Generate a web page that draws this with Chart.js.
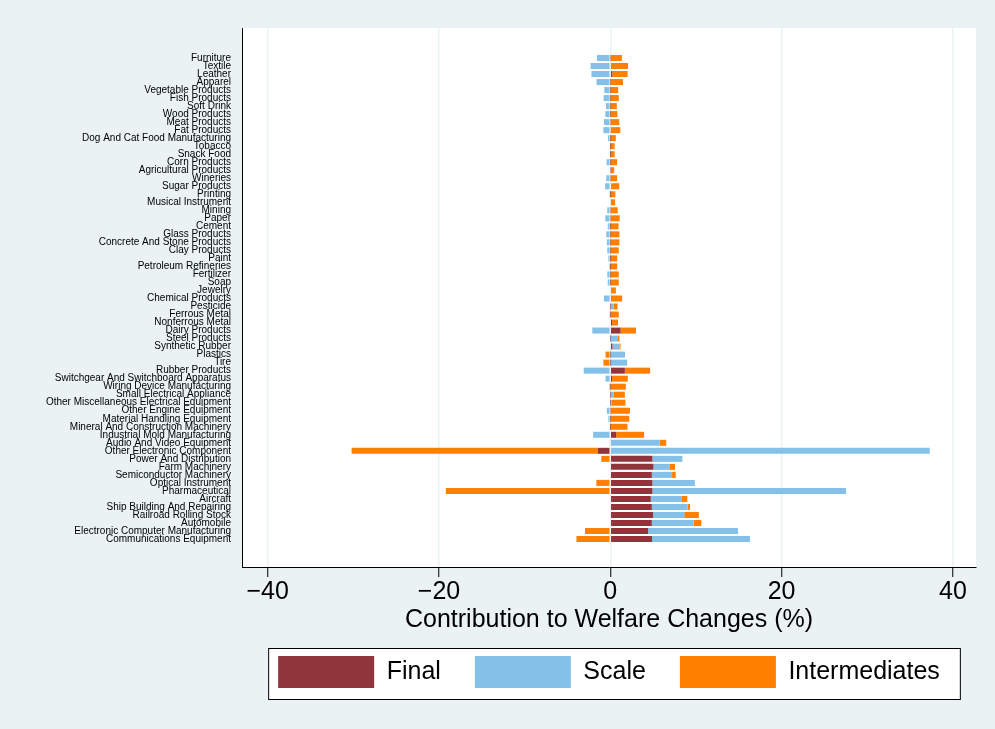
<!DOCTYPE html>
<html>
<head>
<meta charset="utf-8">
<script src="https://cdn.jsdelivr.net/npm/chart.js@4/dist/chart.umd.min.js"></script>
<style>
  html, body { margin: 0; padding: 0; background: #ffffff; }
  #wrap { width: 995px; height: 729px; }
</style>
</head>
<body>
<div id="wrap"><canvas id="welfareChart" width="995" height="729"></canvas></div>
<script>
// categorias (de cima para baixo)
const industries = [
  'Furniture', 'Textile', 'Leather', 'Apparel', 'Vegetable Products', 'Fish Products',
  'Soft Drink', 'Wood Products', 'Meat Products', 'Fat Products', 'Dog And Cat Food Manufacturing',
  'Tobacco', 'Snack Food', 'Corn Products', 'Agricultural Products', 'Wineries', 'Sugar Products',
  'Printing', 'Musical Instrument', 'Mining', 'Paper', 'Cement', 'Glass Products',
  'Concrete And Stone Products', 'Clay Products', 'Paint', 'Petroleum Refineries', 'Fertilizer',
  'Soap', 'Jewelry', 'Chemical Products', 'Pesticide', 'Ferrous Metal', 'Nonferrous Metal',
  'Dairy Products', 'Steel Products', 'Synthetic Rubber', 'Plastics', 'Tire', 'Rubber Products',
  'Switchgear And Switchboard Apparatus', 'Wiring Device Manufacturing', 'Small Electrical Appliance',
  'Other Miscellaneous Electrical Equipment', 'Other Engine Equipment', 'Material Handling Equipment',
  'Mineral And Construction Machinery', 'Industrial Mold Manufacturing', 'Audio And Video Equipment',
  'Other Electronic Component', 'Power And Distribution', 'Farm Machinery', 'Semiconductor Machinery',
  'Optical Instrument', 'Pharmaceutical', 'Aircraft', 'Ship Building And Repairing',
  'Railroad Rolling Stock', 'Automobile', 'Electronic Computer Manufacturing', 'Communications Equipment'
];

const finalValues = [
  0.05, 0.08, 0.23, 0.03, 0.02, 0.02, 0.02, 0.02, 0.05, 0.07, 0.02,
  0.01, 0.01, 0.02, 0.05, 0.05, 0.1, 0.01, 0.08, 0.05, 0.05, 0.01, 0.02,
  0.02, 0.02, 0.01, 0.01, 0.02, 0.02, 0.1, 0.08, 0.02, 0.02, 0.2,
  1.2, 0.02, 0.25, 0.02, 0.02, 1.7, 0.2, 0.02, 0.02, 0.02, 0.05, 0.02,
  0.01, 0.7, -0.1, -1.45, 4.92, 5.04, 4.85, 4.92, 4.92, 4.73, 4.85,
  5.0, 4.85, 4.42, 4.88
];

const scaleValues = [
  -1.55, -2.3, -2.2, -1.6, -0.7, -0.78, -0.5, -0.58, -0.74, -0.81, -0.27,
  -0.1, -0.08, -0.43, 0, -0.47, -0.6, -0.05, 0, -0.35, -0.58, -0.3, -0.47,
  -0.4, -0.35, -0.23, -0.15, -0.35, -0.3, 0, -0.75, 0.4, -0.05, -0.08,
  -2.1, 0.8, 0.85, 1.7, 1.95, -3.1, -0.55, -0.15, 0.4, 0.15, -0.4, -0.23,
  -0.1, -2.0, 5.75, 37.3, 3.5, 1.86, 2.36, 4.96, 22.6, 3.64, 4.19,
  3.64, 4.88, 10.5, 11.43
];

const intermediateValues = [
  1.3, 2.0, 1.8, 1.45, 0.9, 0.97, 0.74, 0.81, 1.0, 1.1, 0.62,
  0.5, 0.5, 0.78, 0.4, 0.75, 0.95, 0.58, 0.48, 0.82, 1.05, 0.95, 1.05,
  1.05, 0.97, 0.8, 0.8, 0.97, 0.97, 0.55, 1.3, 0.43, 0.97, 0.7,
  1.8, 0.25, 0.1, -0.55, -0.8, 2.95, 1.85, 1.8, 1.28, 1.6, 2.25, 2.2,
  2.0, 3.25, 0.78, -28.75, -1.05, 0.66, 0.43, -1.63, -19.2, 0.62, 0.27,
  1.7, 0.9, -2.95, -3.95
];

const xTicks = [-40, -20, 0, 20, 40];

const fontFamily = '"Liberation Sans", Arial, Helvetica, sans-serif';

function toPoints(values) {
  return values.map((v, i) => ({ x: v, y: i }));
}

// fundo cinza-azulado e área do gráfico branca
const backgroundPlugin = {
  id: 'stataBackground',
  beforeDraw(chart) {
    const ctx = chart.ctx;
    const a = chart.chartArea;
    ctx.save();
    ctx.fillStyle = '#eaf2f3';
    ctx.fillRect(0, 0, chart.width, chart.height);
    ctx.fillStyle = '#ffffff';
    ctx.fillRect(a.left, a.top, a.right - a.left, a.bottom - a.top);
    ctx.restore();
  }
};

// moldura da legenda
const legendFramePlugin = {
  id: 'legendFrame',
  beforeDraw(chart) {
    const boxes = chart.legend && chart.legend.legendHitBoxes;
    if (!boxes || !boxes.length) return;
    const left = Math.min(...boxes.map(b => b.left)) - 10;
    const right = Math.max(...boxes.map(b => b.left + b.width)) + 20;
    const top = Math.min(...boxes.map(b => b.top)) - 8;
    const bottom = Math.max(...boxes.map(b => b.top + b.height)) + 11;
    const ctx = chart.ctx;
    ctx.save();
    ctx.fillStyle = '#ffffff';
    ctx.fillRect(left, top, right - left, bottom - top);
    ctx.strokeStyle = '#000000';
    ctx.lineWidth = 1;
    ctx.strokeRect(left + 0.5, top + 0.5, right - left, bottom - top);
    ctx.restore();
  }
};

const ctx = document.getElementById('welfareChart').getContext('2d');

new Chart(ctx, {
  type: 'bar',
  data: {
    datasets: [
      { label: 'Final', data: toPoints(finalValues), backgroundColor: '#90353b', borderWidth: 0 },
      { label: 'Scale', data: toPoints(scaleValues), backgroundColor: '#85c0e9', borderWidth: 0 },
      { label: 'Intermediates', data: toPoints(intermediateValues), backgroundColor: '#ff7f00', borderWidth: 0 }
    ]
  },
  options: {
    indexAxis: 'y',
    responsive: false,
    animation: false,
    devicePixelRatio: 1,
    barPercentage: 0.75,
    categoryPercentage: 1,
    layout: { padding: { top: 28, right: 19, bottom: 31, left: 0 } },
    scales: {
      x: {
        type: 'linear',
        stacked: true,
        min: -43,
        max: 42.7,
        afterFit(scale) { scale.height = 55; },
        afterBuildTicks(scale) { scale.ticks = xTicks.map(v => ({ value: v })); },
        ticks: {
          font: { family: fontFamily, size: 25 },
          color: '#000000',
          padding: 0,
          maxRotation: 0,
          callback: v => (v < 0 ? '\u2212' + Math.abs(v) : String(v))
        },
        grid: {
          color: '#eaf2f3',
          lineWidth: 1.5,
          tickColor: '#000000',
          tickLength: 10,
          tickWidth: 1
        },
        border: { color: '#000000', width: 1 },
        title: {
          display: true,
          text: 'Contribution to Welfare Changes (%)',
          font: { family: fontFamily, size: 25 },
          color: '#000000',
          padding: { top: 0, bottom: -13 }
        }
      },
      y: {
        type: 'linear',
        stacked: true,
        reverse: true,
        offset: false,
        min: -3.74,
        max: 63.49,
        afterFit(scale) { scale.width = 242; },
        afterBuildTicks(scale) { scale.ticks = industries.map((_, i) => ({ value: i })); },
        ticks: {
          autoSkip: false,
          font: { family: fontFamily, size: 10 },
          color: '#000000',
          padding: 11,
          callback: v => industries[v] || ''
        },
        grid: { display: false, drawTicks: false },
        border: { color: '#000000', width: 1 }
      }
    },
    plugins: {
      legend: {
        position: 'bottom',
        fullSize: false,
        labels: {
          boxWidth: 96,
          boxHeight: 32,
          padding: 34,
          color: '#000000',
          font: { family: fontFamily, size: 25 }
        }
      },
      tooltip: { enabled: false }
    }
  },
  plugins: [backgroundPlugin, legendFramePlugin]
});
</script>
</body>
</html>
